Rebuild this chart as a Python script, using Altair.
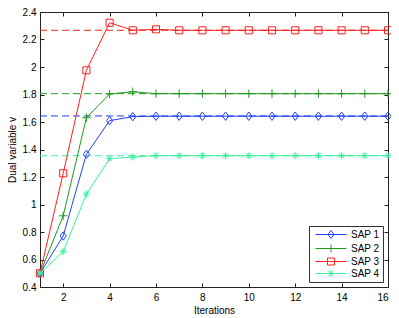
import altair as alt
import pandas as pd

iterations = list(range(1, 17))
series_names = ["SAP 1", "SAP 2", "SAP 3", "SAP 4"]
sap1 = [0.50, 0.771, 1.365, 1.610, 1.639, 1.642, 1.642, 1.642, 1.642, 1.642, 1.642, 1.642, 1.642, 1.642, 1.642, 1.642]
sap2 = [0.50, 0.918, 1.631, 1.804, 1.820, 1.806, 1.806, 1.806, 1.806, 1.806, 1.806, 1.806, 1.806, 1.806, 1.806, 1.806]
sap3 = [0.50, 1.227, 1.976, 2.322, 2.267, 2.274, 2.267, 2.267, 2.267, 2.267, 2.267, 2.267, 2.267, 2.267, 2.267, 2.267]
sap4 = [0.50, 0.657, 1.076, 1.333, 1.345, 1.355, 1.355, 1.355, 1.355, 1.355, 1.355, 1.355, 1.355, 1.355, 1.355, 1.355]
optimal = [1.644, 1.806, 2.267, 1.355]
colors = ["#1f3fff", "#1f9a1f", "#ff1f1f", "#3cf0a0"]
x_ticks = [2, 4, 6, 8, 10, 12, 14, 16]
y_ticks = [0.4, 0.6, 0.8, 1.0, 1.2, 1.4, 1.6, 1.8, 2.0, 2.2, 2.4]

marker_paths = [
    "M0,-1L0.75,0L0,1L-0.75,0Z",
    "M-1,0L1,0M0,-1L0,1",
    "M-1,-1L1,-1L1,1L-1,1Z",
    "M-1,0L1,0M0,-1L0,1M-0.7,-0.7L0.7,0.7M-0.7,0.7L0.7,-0.7",
]
marker_sizes = [70, 70, 50, 50]
# legend symbols: size 100 -> unit = 5px; line 31px wide, marker ~7px
legend_paths = [
    "M-3.1,0L3.1,0M0,-0.8L0.6,0L0,0.8L-0.6,0Z",
    "M-3.1,0L3.1,0M0,-0.8L0,0.8",
    "M-3.1,0L3.1,0M-0.7,-0.7L0.7,-0.7L0.7,0.7L-0.7,0.7Z",
    "M-3.1,0L3.1,0M-0.7,0L0.7,0M0,-0.7L0,0.7M-0.5,-0.5L0.5,0.5M-0.5,0.5L0.5,-0.5",
]

W, H = 348, 275
FONT = "Liberation Sans"

df = pd.DataFrame({
    "iteration": iterations * 4,
    "value": sap1 + sap2 + sap3 + sap4,
    "series": [s for s in series_names for _ in iterations],
})
dash_df = pd.DataFrame({
    "iteration": [iterations[0], iterations[-1]] * 4,
    "value": [v for v in optimal for _ in range(2)],
    "series": [s for s in series_names for _ in range(2)],
})

xscale = alt.Scale(domain=[1, 16], nice=False, zero=False)
yscale = alt.Scale(domain=[0.4, 2.4], nice=False, zero=False)


def X(axis):
    return alt.X("iteration:Q", scale=xscale, axis=axis)


def Y(axis):
    return alt.Y("value:Q", scale=yscale, axis=axis)


ax_x_main = alt.Axis(orient="bottom", values=x_ticks, title="Iterations", ticks=False,
                     domain=False, labelPadding=5, titlePadding=3)
ax_x_tb = alt.Axis(orient="top", offset=-H, values=x_ticks, labels=False, domain=False,
                   tickSize=4, title=None)
ax_x_tt = alt.Axis(orient="bottom", offset=-H, values=x_ticks, labels=False, domain=False,
                   tickSize=4, title=None)
ax_y_main = alt.Axis(orient="left", values=y_ticks, title="Dual variable v", ticks=False,
                     domain=False, labelPadding=4, titlePadding=5, format="~g")
ax_y_tl = alt.Axis(orient="right", offset=-W, values=y_ticks, labels=False, domain=False,
                   tickSize=4, title=None)
ax_y_tr = alt.Axis(orient="left", offset=-W, values=y_ticks, labels=False, domain=False,
                   tickSize=4, title=None)

layers = []
for i, s in enumerate(series_names):
    xa = ax_x_main if i == 0 else None
    ya = ax_y_main if i == 0 else None
    layers.append(
        alt.Chart(dash_df).transform_filter(alt.datum.series == s)
        .mark_line(strokeDash=[7, 4], strokeWidth=1, color=colors[i])
        .encode(x=X(xa), y=Y(ya))
    )
for i, s in enumerate(series_names):
    xa = ax_x_tb if i == 0 else None
    ya = ax_y_tl if i == 0 else None
    layers.append(
        alt.Chart(df).transform_filter(alt.datum.series == s)
        .mark_line(strokeWidth=1, color=colors[i])
        .encode(x=X(xa), y=Y(ya))
    )
    xa2 = ax_x_tt if i == 0 else None
    ya2 = ax_y_tr if i == 0 else None
    layers.append(
        alt.Chart(df).transform_filter(alt.datum.series == s)
        .mark_point(shape=marker_paths[i], size=marker_sizes[i], filled=False,
                    strokeWidth=1, color=colors[i], opacity=1)
        .encode(x=X(xa2), y=Y(ya2))
    )

leg = alt.Legend(title=None, orient="bottom-right", offset=5, strokeColor="#333",
                 fillColor="white", padding=3, labelFont=FONT, labelFontSize=10,
                 labelColor="#000", symbolStrokeWidth=1, symbolSize=100,
                 symbolOffset=13.5, labelOffset=14.5, rowPadding=1,
                 labelExpr="datum.label + ' '")
legend_layer = (
    alt.Chart(df).transform_filter("datum.iteration < 0")
    .mark_point(filled=False, strokeWidth=1, size=100, opacity=1)
    .encode(
        color=alt.Color("series:N", scale=alt.Scale(domain=series_names, range=colors), legend=leg),
        shape=alt.Shape("series:N", scale=alt.Scale(domain=series_names, range=legend_paths), legend=leg),
    )
)
layers.append(legend_layer)

chart = (
    alt.layer(*layers)
    .resolve_axis(x="independent", y="independent")
    .properties(width=W, height=H, autosize=alt.AutoSizeParams(type="none"),
                padding={"left": 32, "top": 4, "right": 3, "bottom": 31})
    .configure_axis(grid=False, labelFont=FONT, labelFontSize=10, titleFont=FONT,
                    titleFontSize=10, titleFontWeight="normal", labelColor="#000",
                    titleColor="#000", tickColor="#222", tickWidth=1)
    .configure_view(stroke="#222", strokeWidth=1)
)

chart.save("out.html", embed_options={"renderer": "svg", "actions": False})
